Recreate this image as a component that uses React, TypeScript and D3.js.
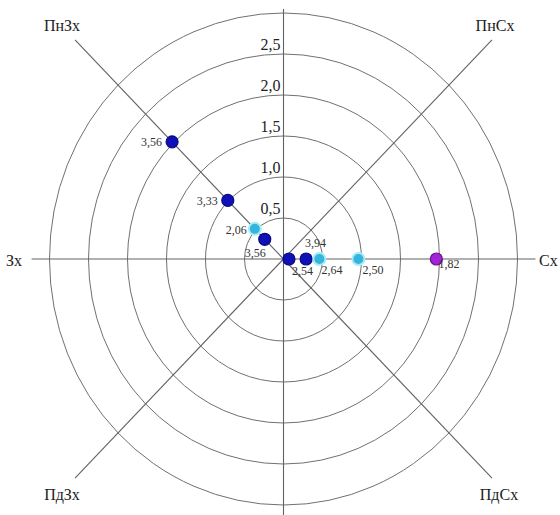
import React from "react";
import * as d3 from "d3";

// Ring values of the polar grid
const ringValues = [0.5, 1.0, 1.5, 2.0, 2.5, 3.0];
const ringLabels = ["0,5", "1,0", "1,5", "2,0", "2,5"];

// Compass directions (angle in degrees, counter-clockwise from east)
const axisAngles = [0, 45, 90, 135, 180, 225, 270, 315];
const axisNames = ["Сх", "ПнСх", "", "ПнЗх", "Зх", "ПдЗх", "", "ПдСх"];

// Observations: direction angle, radial value, printed label, colour group
const pointAngles = [135, 135, 135, 135, 0, 0, 0, 0, 0];
const pointRadii = [2.02, 1.01, 0.52, 0.34, 0.07, 0.29, 0.46, 0.96, 1.96];
const pointLabels = ["3,56", "3,33", "2,06", "3,56", "2,54", "3,94", "2,64", "2,50", "1,82"];
const pointGroups = ["dark", "dark", "light", "dark", "dark", "dark", "light", "light", "violet"];

// Label placement relative to each marker
const labelDx = [-10, -10, -8, -20, 3, -1, 2, 4, 2];
const labelDy = [4, 5, 5, 18, 16, -12, 15, 15, 9];
const labelAnchor = ["end", "end", "end", "start", "start", "start", "start", "start", "start"];

const groupFill: Record<string, string> = {
  dark: "#1010b8",
  light: "#36b4dc",
  violet: "#a324d6",
};
const groupStroke: Record<string, string> = {
  dark: "#0a0a80",
  light: "#a6ecf8",
  violet: "#6a1090",
};
const groupStrokeWidth: Record<string, number> = {
  dark: 1.2,
  light: 2,
  violet: 1.2,
};

const W = 560;
const H = 515;
const cx = 283.5;
const cy = 259;

export default function App() {
  const rx = d3.scaleLinear().domain([0, 3]).range([0, 234]);
  const ry = d3.scaleLinear().domain([0, 3]).range([0, 246]);
  const serif = "'Liberation Serif', 'DejaVu Serif', serif";

  const px = (a: number, r: number) => cx + rx(r) * Math.cos((a * Math.PI) / 180);
  const py = (a: number, r: number) => cy - ry(r) * Math.sin((a * Math.PI) / 180);

  // Axis line extents in data units
  const axisLen = (a: number) => {
    if (a % 90 !== 0) return 3.78;
    if (a === 90) return 3.05;
    if (a === 270) return 3.2;
    return 3.23;
  };

  const nameOffsets: Record<number, { x: number; y: number; anchor: string }> = {
    0: { x: 539, y: 266, anchor: "start" },
    45: { x: 495, y: 31, anchor: "middle" },
    135: { x: 62, y: 31, anchor: "middle" },
    180: { x: 6, y: 266, anchor: "start" },
    225: { x: 62, y: 500, anchor: "middle" },
    315: { x: 499, y: 500, anchor: "middle" },
  };

  return (
    <svg
      width={W}
      height={H}
      style={{ position: "absolute", left: 0, top: 0, background: "#fff" }}
    >
      {ringValues.map((v) => (
        <ellipse
          key={v}
          cx={cx}
          cy={cy}
          rx={rx(v)}
          ry={ry(v)}
          fill="none"
          stroke="#707070"
          strokeWidth={1}
        />
      ))}
      {axisAngles.map((a) => (
        <line
          key={a}
          x1={cx}
          y1={cy}
          x2={px(a, axisLen(a))}
          y2={py(a, axisLen(a))}
          stroke="#626262"
          strokeWidth={1.1}
        />
      ))}
      {ringLabels.map((t, i) => (
        <text
          key={t}
          x={cx - 3}
          y={cy - ry(ringValues[i]) - 4}
          textAnchor="end"
          fontFamily={serif}
          fontSize={16}
          fill="#222"
        >
          {t}
        </text>
      ))}
      {axisAngles.map((a, i) => {
        const n = axisNames[i];
        const o = nameOffsets[a];
        if (!n || !o) return null;
        return (
          <text
            key={"n" + a}
            x={o.x}
            y={o.y}
            textAnchor={o.anchor as any}
            fontFamily={serif}
            fontSize={16}
            fill="#222"
          >
            {n}
          </text>
        );
      })}
      {pointRadii.map((r, i) => {
        const x = px(pointAngles[i], r);
        const y = py(pointAngles[i], r);
        const g = pointGroups[i];
        return (
          <g key={"p" + i}>
            <circle
              cx={x}
              cy={y}
              r={6}
              fill={groupFill[g]}
              stroke={groupStroke[g]}
              strokeWidth={groupStrokeWidth[g]}
            />
            <text
              x={x + labelDx[i]}
              y={y + labelDy[i]}
              textAnchor={labelAnchor[i] as any}
              fontFamily={serif}
              fontSize={12}
              fill="#333"
            >
              {pointLabels[i]}
            </text>
          </g>
        );
      })}
    </svg>
  );
}
